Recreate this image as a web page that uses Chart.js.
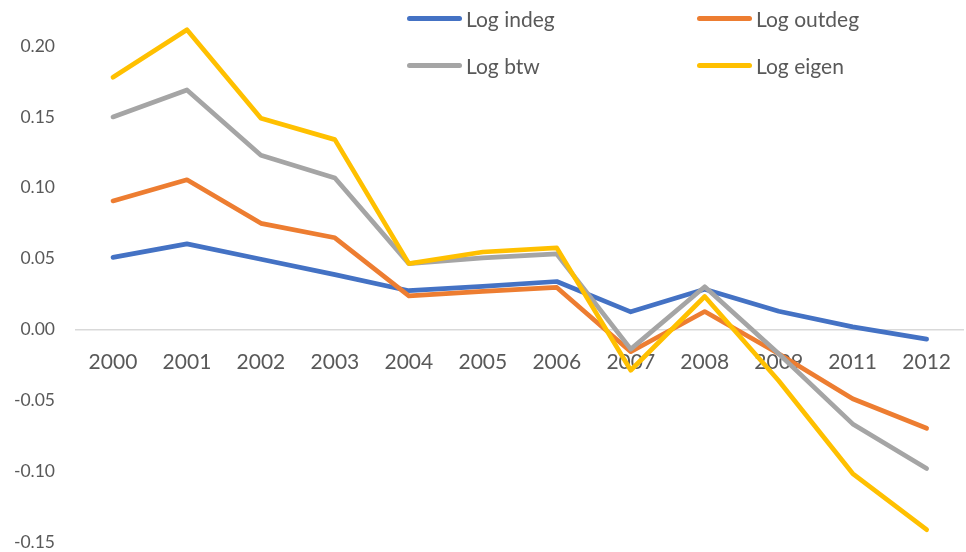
<!DOCTYPE html>
<html>
<head>
<meta charset="utf-8">
<script src="https://cdn.jsdelivr.net/npm/chart.js@4/dist/chart.umd.min.js"></script>
<style>
  html, body { margin: 0; padding: 0; background: #ffffff; overflow: hidden; }
  #wrap { position: relative; width: 971px; height: 552px; overflow: hidden; }
  #legend { position: absolute; left: 0; top: 0; width: 100%; height: 0; font-family: Lato, sans-serif; font-size: 21px; color: #595959; }
  .item { position: absolute; display: flex; align-items: center; white-space: nowrap; }
  .swatch { width: 55px; height: 5px; border-radius: 3px; margin-right: 4px; }
  canvas { display: block; }
</style>
</head>
<body>
<div id="wrap">
  <canvas id="c" width="971" height="574"></canvas>
  <div id="legend"></div>
</div>
<script>
// Years on the horizontal axis (no 2010 observation)
const years = ['2000', '2001', '2002', '2003', '2004', '2005', '2006', '2007', '2008', '2009', '2011', '2012'];

// Yearly change of each log centrality measure
const logIndeg  = [0.051, 0.0605, 0.0497, 0.0388, 0.0275, 0.0305, 0.034, 0.0126, 0.0285, 0.013, 0.002, -0.0066];
const logOutdeg = [0.0908, 0.1057, 0.075, 0.0648, 0.0239, 0.027, 0.0298, -0.0155, 0.0128, -0.017, -0.0487, -0.0695];
const logBtw    = [0.150, 0.169, 0.123, 0.107, 0.0466, 0.0506, 0.0534, -0.0137, 0.0303, -0.017, -0.0664, -0.0979];
const logEigen  = [0.178, 0.2115, 0.149, 0.134, 0.0466, 0.0548, 0.0577, -0.0286, 0.0234, -0.036, -0.1014, -0.141];

const seriesNames = ['Log indeg', 'Log outdeg', 'Log btw', 'Log eigen'];
const seriesColors = ['#4472C4', '#ED7D31', '#A5A5A5', '#FFC000'];

// Value axis
const yMin = -0.15;
const yMax = 0.20;
const yStep = 0.05;

const seriesValues = [logIndeg, logOutdeg, logBtw, logEigen];

Chart.defaults.font.family = 'Lato, sans-serif';
Chart.defaults.font.size = 21;
Chart.defaults.color = '#595959';

const chart = new Chart(document.getElementById('c'), {
  type: 'line',
  data: {
    labels: years,
    datasets: seriesValues.map((vals, i) => ({
      label: seriesNames[i],
      data: vals,
      borderColor: seriesColors[i],
      backgroundColor: seriesColors[i],
      borderWidth: 4.7,
      borderCapStyle: 'round',
      borderJoinStyle: 'round',
      pointRadius: 0,
      tension: 0,
      clip: false,
      order: seriesValues.length - i
    }))
  },
  options: {
    responsive: false,
    devicePixelRatio: 1,
    animation: false,
    layout: { padding: { top: 46, bottom: 15, left: 0, right: 0 } },
    plugins: {
      legend: { display: false },
      tooltip: { enabled: false }
    },
    scales: {
      x: {
        type: 'category',
        position: { y: 0 },
        offset: true,
        grid: { display: false, drawTicks: false },
        border: { display: true, color: '#d9d9d9', width: 1.5 },
        ticks: { padding: 20, autoSkip: false, maxRotation: 0 }
      },
      y: {
        min: yMin,
        max: yMax,
        grid: { display: false, drawTicks: false },
        border: { display: false },
        ticks: {
          stepSize: yStep,
          padding: 21,
          font: { size: 17.5 },
          callback: (v) => Number(v).toFixed(2)
        },
        afterFit: (scale) => { scale.width = 76; }
      }
    }
  }
});

// Two-column legend built from the chart's datasets
const legendBox = document.getElementById('legend');
const legendSlots = [[407, 18], [697, 18], [407, 65], [697, 65]];
chart.data.datasets.forEach((ds, i) => {
  const item = document.createElement('div');
  item.className = 'item';
  item.style.left = legendSlots[i][0] + 'px';
  item.style.top = (legendSlots[i][1] - 13) + 'px';
  item.style.height = '26px';
  const sw = document.createElement('span');
  sw.className = 'swatch';
  sw.style.background = ds.borderColor;
  const tx = document.createElement('span');
  tx.textContent = ds.label;
  item.appendChild(sw);
  item.appendChild(tx);
  legendBox.appendChild(item);
});
</script>
</body>
</html>
